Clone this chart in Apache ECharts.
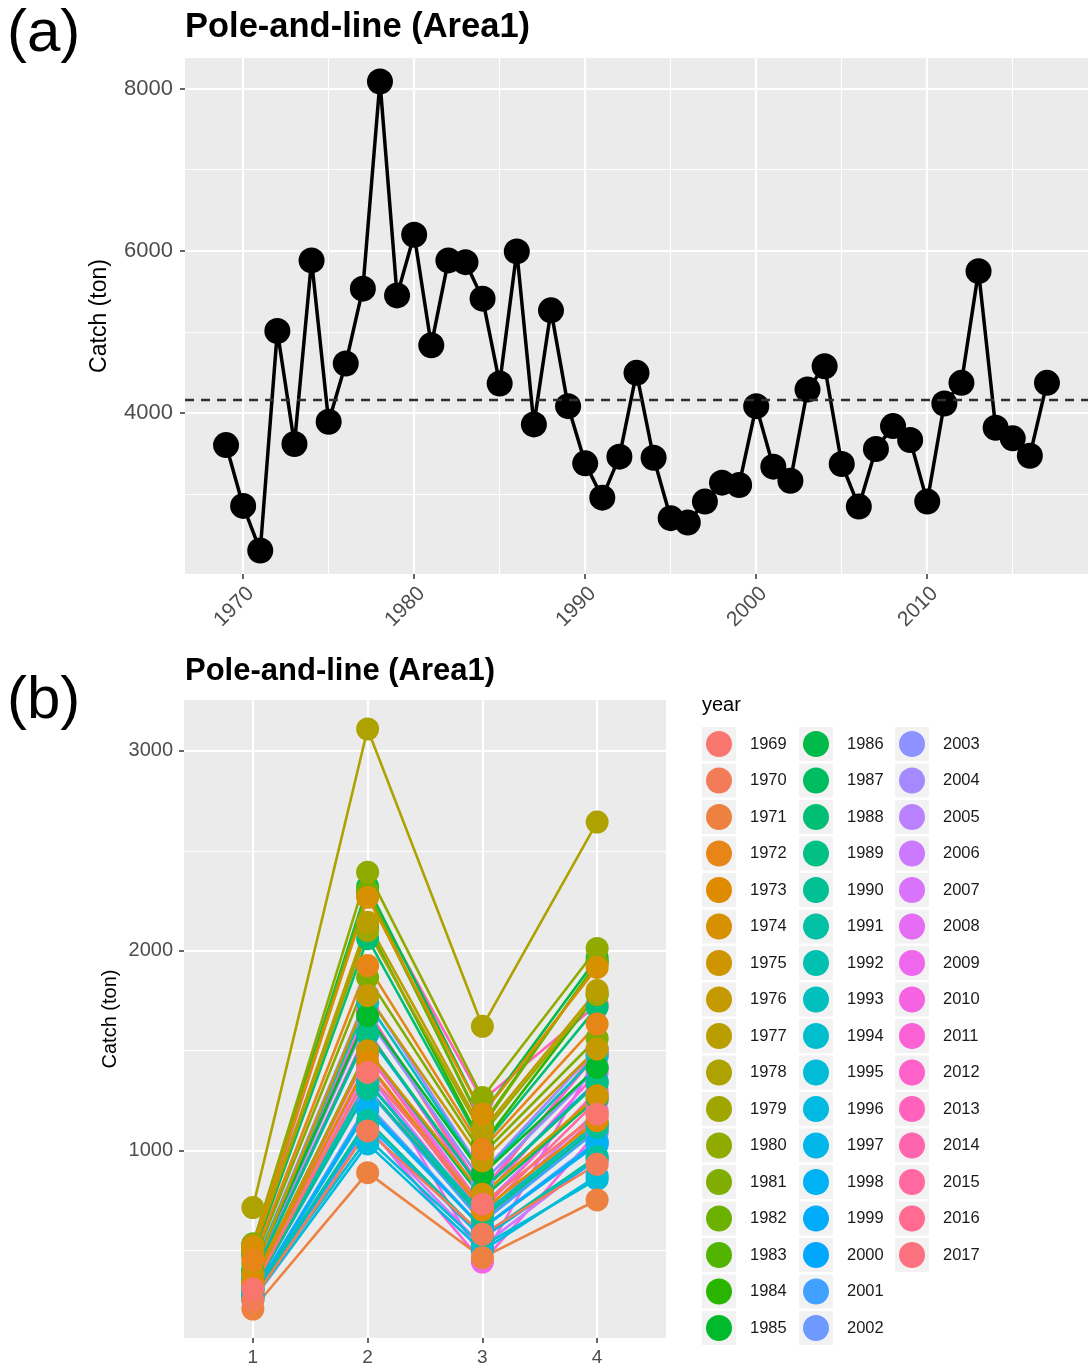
<!DOCTYPE html>
<html>
<head>
<meta charset="utf-8">
<script src="https://cdn.jsdelivr.net/npm/echarts@6/dist/echarts.min.js"></script>
<style>
html,body{margin:0;padding:0;background:#fff;}
#chart{width:1088px;height:1370px;}
</style>
</head>
<body>
<div id="chart"></div>
<script>
// ---------- DATA ----------
const years = [1969,1970,1971,1972,1973,1974,1975,1976,1977,1978,1979,1980,1981,1982,1983,1984,1985,1986,1987,1988,1989,1990,1991,1992,1993,1994,1995,1996,1997,1998,1999,2000,2001,2002,2003,2004,2005,2006,2007,2008,2009,2010,2011,2012,2013,2014,2015,2016,2017];
const annualCatch = [3606,2856,2306,5012,3619,5882,3893,4611,5534,8088,5451,6198,4836,5882,5861,5411,4365,5993,3861,5267,4086,3381,2958,3463,4496,3450,2705,2651,2909,3143,3114,4086,3340,3167,4291,4578,3373,2848,3557,3840,3668,2909,4119,4373,5750,3819,3689,3475,4373];
const quarters = [1,2,3,4];
const q1Catch = [305,250,205,450,330,518,342,383,492,713,491,530,430,520,510,480,396,530,340,470,360,300,270,310,400,305,270,250,265,280,275,360,300,280,380,400,300,255,320,340,330,260,370,390,480,340,330,310,390];
const q2Catch = [1390,1097,888,1925,1440,2267,1498,1774,2142,3110,2100,2393,1866,2300,2280,2120,1674,2320,1500,2060,1590,1306,1150,1340,1740,1340,1060,1032,1130,1214,1200,1580,1300,1230,1660,1780,1310,1110,1380,1500,1420,1120,1600,1700,2290,1480,1430,1350,1700];
const q3Catch = [730,579,462,1005,700,1181,780,947,1100,1621,1080,1264,980,1120,1130,1030,880,1180,760,1020,800,660,570,680,880,670,520,497,560,610,610,800,640,610,840,890,640,520,660,720,450,440,760,800,1250,700,680,640,780];
const q4Catch = [1181,930,751,1632,1149,1916,1273,1507,1800,2644,1780,2011,1560,1942,1941,1781,1415,1963,1261,1717,1336,1115,968,1133,1476,1135,855,872,954,1039,1029,1346,1100,1047,1411,1508,1123,963,1197,1280,1468,1089,1389,1483,1730,1299,1249,1175,1503];
const yearTicks = [1970,1980,1990,2000,2010];
const yearMinor = [1975,1985,1995,2005,2015];
const catchTicksA = [4000,6000,8000];
const catchMinorA = [3000,5000,7000];
const catchTicksB = [1000,2000,3000];
const catchMinorB = [500,1500,2500];
const titleText = 'Pole-and-line (Area1)';
const yName = 'Catch (ton)';

// ---------- helpers ----------
function hclHex(h, c, l) {
  const hr = h * Math.PI / 180;
  const U = c * Math.cos(hr), V = c * Math.sin(hr);
  const Xn = 95.047, Yn = 100, Zn = 108.883;
  const den = Xn + 15 * Yn + 3 * Zn;
  const un = 4 * Xn / den, vn = 9 * Yn / den;
  const Y = Yn * (l > 8 ? Math.pow((l + 16) / 116, 3) : l / 903.3);
  const u = U / (13 * l) + un, v = V / (13 * l) + vn;
  const X = 9 * Y * u / (4 * v);
  const Z = -X / 3 - 5 * Y + 3 * Y / v;
  const lin = [
    (3.240479 * X - 1.537150 * Y - 0.498535 * Z) / 100,
    (-0.969256 * X + 1.875992 * Y + 0.041556 * Z) / 100,
    (0.055648 * X - 0.204043 * Y + 1.057311 * Z) / 100
  ];
  return '#' + lin.map(t => {
    let g = t <= 0.0031308 ? 12.92 * t : 1.055 * Math.pow(t, 1 / 2.4) - 0.055;
    g = Math.max(0, Math.min(1, g));
    return Math.round(g * 255).toString(16).padStart(2, '0');
  }).join('');
}
const n = years.length;
const colors = years.map((y, i) => hclHex(15 + i * 360 / n, 100, 65));
const qData = [q1Catch, q2Catch, q3Catch, q4Catch];

function expand(arr) {
  const mn = Math.min(...arr), mx = Math.max(...arr);
  const r = mx - mn;
  return [mn - 0.05 * r, mx + 0.05 * r];
}
const xA = expand(years);
const yA = expand(annualCatch);
const allQ = [].concat(...qData);
const yB = expand(allQ);
const xB = [0.4, 4.6];

const FONT = 'Liberation Sans, Arial, sans-serif';
const tickLabelColor = '#4D4D4D';
const plain = v => String(Math.round(v));

function majorAxis(opts) {
  const vals = opts.values;
  return Object.assign({
    type: 'value',
    axisLine: { show: false },
    axisTick: { show: true, customValues: vals, length: 5, lineStyle: { color: '#333333', width: 1.5 } },
    axisLabel: { show: true, customValues: vals, color: tickLabelColor, fontFamily: FONT, formatter: plain },
    splitLine: { show: true, customValues: vals, lineStyle: { color: '#FFFFFF', width: 2.2 } },
    minorTick: { show: false }, minorSplitLine: { show: false }
  }, opts.extra);
}
function minorAxis(opts) {
  const vals = opts.values;
  return Object.assign({
    type: 'value',
    axisLine: { show: false },
    axisTick: { show: false, customValues: vals },
    axisLabel: { show: false, customValues: vals },
    splitLine: { show: true, customValues: vals, lineStyle: { color: '#FFFFFF', width: 1.1 } }
  }, opts.extra);
}

// ---------- series ----------
const series = [];
series.push({
  type: 'line',
  name: 'annual',
  xAxisIndex: 0, yAxisIndex: 0,
  data: years.map((y, i) => [y, annualCatch[i]]),
  symbol: 'circle', symbolSize: 26,
  lineStyle: { color: '#000', width: 3.5 },
  itemStyle: { color: '#000' },
  z: 3,
  markLine: {
    silent: true, symbol: 'none',
    label: { show: false },
    lineStyle: { color: '#303030', type: [9, 7], width: 2.4 },
    data: [{ type: 'average' }]
  }
});
for (let i = n - 1; i >= 0; i--) {
  series.push({
    type: 'line', name: String(years[i]),
    xAxisIndex: 2, yAxisIndex: 2,
    data: quarters.map((q, j) => [q, qData[j][i]]),
    showSymbol: false,
    lineStyle: { color: colors[i], width: 2.6 },
    itemStyle: { color: colors[i] },
    z: 2
  });
}
for (let i = n - 1; i >= 0; i--) {
  series.push({
    type: 'scatter', name: String(years[i]),
    xAxisIndex: 2, yAxisIndex: 2,
    data: quarters.map((q, j) => [q, qData[j][i]]),
    symbol: 'circle', symbolSize: 23,
    itemStyle: { color: colors[i], opacity: 1 },
    z: 3
  });
}

// ---------- legends ----------
const legendCols = [years.slice(0, 17), years.slice(17, 34), years.slice(34)];
const keyCenters = [719, 816, 912];
const rowTop = 744, rowStep = 36.5;
const legends = legendCols.map((col, c) => ({
  orient: 'vertical',
  left: keyCenters[c] - 13, top: rowTop - 13,
  padding: 0,
  itemWidth: 26, itemHeight: 26, itemGap: rowStep - 26,
  icon: 'circle',
  selectedMode: false,
  data: col.map(String),
  textStyle: { fontFamily: FONT, fontSize: 16.5, color: '#1A1A1A', padding: [0, 0, 0, 13] }
}));
const keyRects = [];
legendCols.forEach((col, c) => {
  col.forEach((y, r) => {
    keyRects.push({
      type: 'rect', z: 0,
      shape: { x: keyCenters[c] - 17, y: rowTop + r * rowStep - 17, width: 34, height: 34 },
      style: { fill: '#F2F2F2' }
    });
  });
});

const option = {
  backgroundColor: '#FFFFFF',
  animation: false,
  textStyle: { fontFamily: FONT },
  title: [
    { text: '(a)', left: 7, top: 4, padding: 0, textStyle: { fontSize: 60, fontWeight: 'normal', color: '#000', fontFamily: FONT } },
    { text: titleText, left: 185, top: 10, padding: 0, textStyle: { fontSize: 34.5, fontWeight: 'bold', color: '#000', fontFamily: FONT } },
    { text: '(b)', left: 7, top: 671, padding: 0, textStyle: { fontSize: 60, fontWeight: 'normal', color: '#000', fontFamily: FONT } },
    { text: titleText, left: 185, top: 656, padding: 0, textStyle: { fontSize: 31, fontWeight: 'bold', color: '#000', fontFamily: FONT } },
    { text: 'year', left: 702, top: 695, padding: 0, textStyle: { fontSize: 20, fontWeight: 'normal', color: '#000', fontFamily: FONT } }
  ],
  legend: legends,
  grid: [
    { left: 185, top: 58, width: 906, height: 516, show: true, backgroundColor: '#EBEBEB', borderWidth: 0, containLabel: false },
    { left: 184, top: 700, width: 482, height: 638, show: true, backgroundColor: '#EBEBEB', borderWidth: 0, containLabel: false }
  ],
  xAxis: [
    majorAxis({ values: yearTicks, extra: { gridIndex: 0, min: xA[0], max: xA[1],
      axisLabel: { show: true, customValues: yearTicks, rotate: 45, align: 'right', verticalAlign: 'top', fontSize: 21, margin: 9, color: tickLabelColor, fontFamily: FONT, formatter: plain } } }),
    minorAxis({ values: yearMinor, extra: { gridIndex: 0, min: xA[0], max: xA[1] } }),
    majorAxis({ values: quarters, extra: { gridIndex: 1, min: xB[0], max: xB[1],
      axisLabel: { show: true, customValues: quarters, fontSize: 19, margin: 10, color: tickLabelColor, fontFamily: FONT, formatter: plain } } })
  ],
  yAxis: [
    majorAxis({ values: catchTicksA, extra: { gridIndex: 0, min: yA[0], max: yA[1], position: 'left',
      name: yName, nameLocation: 'middle', nameGap: 74,
      nameTextStyle: { fontSize: 23, color: '#000', fontFamily: FONT },
      axisLabel: { show: true, customValues: catchTicksA, fontSize: 22, margin: 12, color: tickLabelColor, fontFamily: FONT, formatter: plain } } }),
    minorAxis({ values: catchMinorA, extra: { gridIndex: 0, min: yA[0], max: yA[1], position: 'left' } }),
    majorAxis({ values: catchTicksB, extra: { gridIndex: 1, min: yB[0], max: yB[1], position: 'left',
      name: yName, nameLocation: 'middle', nameGap: 64,
      nameTextStyle: { fontSize: 20, color: '#000', fontFamily: FONT },
      axisLabel: { show: true, customValues: catchTicksB, fontSize: 20, margin: 11, color: tickLabelColor, fontFamily: FONT, formatter: plain } } }),
    minorAxis({ values: catchMinorB, extra: { gridIndex: 1, min: yB[0], max: yB[1], position: 'left' } })
  ],
  graphic: keyRects,
  series: series
};

const chart = echarts.init(document.getElementById('chart'), null, { renderer: 'canvas' });
chart.setOption(option);
</script>
</body>
</html>
